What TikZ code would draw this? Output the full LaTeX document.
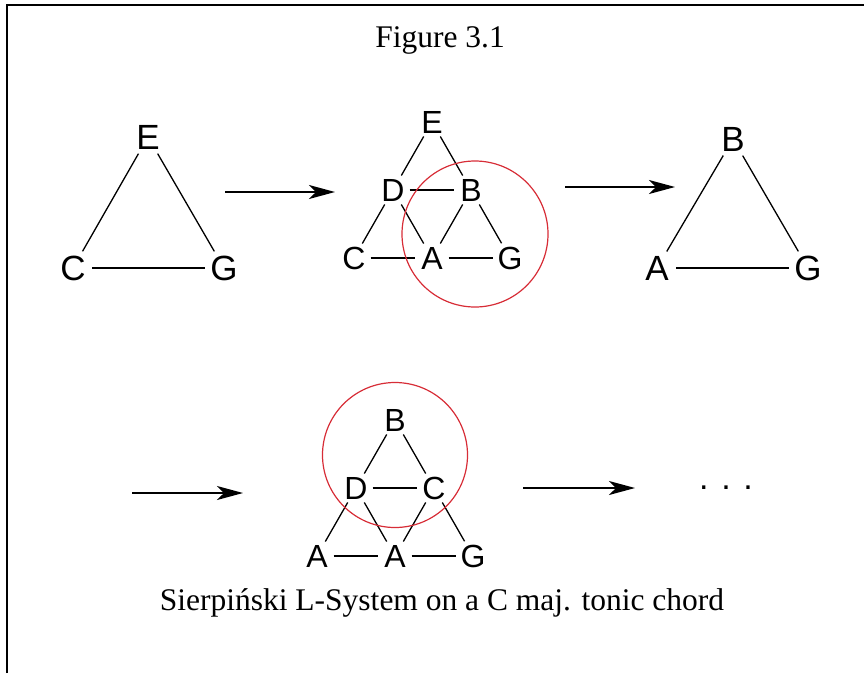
\documentclass[tikz,border=0pt]{standalone}
\usepackage{fontspec}
\setmainfont{Liberation Serif}
\setsansfont{Liberation Sans}
\usetikzlibrary{arrows.meta}
\definecolor{ringred}{RGB}{215,45,55}

\begin{document}
\begin{tikzpicture}[x=1pt, y=-1pt,
    big/.style={circle, inner sep=0pt, minimum size=38pt, font=\sffamily\fontsize{35}{41}\selectfont},
    small/.style={circle, inner sep=0pt, minimum size=33pt, font=\sffamily\fontsize{32}{38}\selectfont},
    link/.style={line width=1.3pt},
    ring/.style={circle, draw=ringred, line width=1.2pt, inner sep=0pt},
    nextarrow/.style={line width=1.4pt, -{Stealth[length=26pt, width=14pt, inset=7pt]}},
    caption/.style={font=\fontsize{31.5}{37}\selectfont, anchor=base}]

    \useasboundingbox (0,0) rectangle (864,673);

    % Frame
    \draw[line width=2pt] (7,673) -- (7,5) -- (864,5);

    % Title
    \node[caption] (title) at (440,47) {Figure 3.1};

    % Triangle 1
    \node[big] (e1) at (148,137) {E};
    \node[big] (c1) at (73,268) {C};
    \node[big] (g1) at (224,268) {G};
    \draw[link] (e1) -- (c1);
    \draw[link] (e1) -- (g1);
    \draw[link] (c1) -- (g1);

    % Triangle 2
    \node[small] (e2) at (432,122) {E};
    \node[small] (d2) at (393,190) {D};
    \node[small] (b2) at (471,190) {B};
    \node[small] (c2) at (354,258) {C};
    \node[small] (a2) at (432,258) {A};
    \node[small] (g2) at (510,258) {G};
    \draw[link] (e2) -- (d2);
    \draw[link] (e2) -- (b2);
    \draw[link] (d2) -- (b2);
    \draw[link] (d2) -- (c2);
    \draw[link] (d2) -- (a2);
    \draw[link] (b2) -- (a2);
    \draw[link] (b2) -- (g2);
    \draw[link] (c2) -- (a2);
    \draw[link] (a2) -- (g2);
    \node[ring, minimum size=146pt] (ring2) at (475,234) {};

    % Triangle 3
    \node[big] (b3) at (733,139) {B};
    \node[big] (a3) at (657,268) {A};
    \node[big] (g3) at (808,268) {G};
    \draw[link] (b3) -- (a3);
    \draw[link] (b3) -- (g3);
    \draw[link] (a3) -- (g3);

    % Triangle 4
    \node[small] (b4) at (395,420) {B};
    \node[small] (d4) at (356,488) {D};
    \node[small] (c4) at (434,488) {C};
    \node[small] (a4) at (317,556) {A};
    \node[small] (m4) at (395,556) {A};
    \node[small] (g4) at (473,556) {G};
    \draw[link] (b4) -- (d4);
    \draw[link] (b4) -- (c4);
    \draw[link] (d4) -- (c4);
    \draw[link] (d4) -- (a4);
    \draw[link] (d4) -- (m4);
    \draw[link] (c4) -- (m4);
    \draw[link] (c4) -- (g4);
    \draw[link] (a4) -- (m4);
    \draw[link] (m4) -- (g4);
    \node[ring, minimum size=145pt] (ring4) at (395,455) {};

    % Arrows
    \coordinate (s1) at (225,192);
    \coordinate (t1) at (335,192);
    \coordinate (s2) at (565,187);
    \coordinate (t2) at (675,187);
    \coordinate (s3) at (132,493);
    \coordinate (t3) at (243,493);
    \coordinate (s4) at (523,488);
    \coordinate (t4) at (635,488);
    \draw[nextarrow] (s1) -- (t1);
    \draw[nextarrow] (s2) -- (t2);
    \draw[nextarrow] (s3) -- (t3);
    \draw[nextarrow] (s4) -- (t4);

    % Continuation
    \node[font=\sffamily\fontsize{34}{40}\selectfont, inner sep=0pt] (dots) at (726,488) {. . .};

    % Caption
    \node[caption] (label) at (442,610) {Sierpiński L-System on a C maj. tonic chord};
\end{tikzpicture}
\end{document}
